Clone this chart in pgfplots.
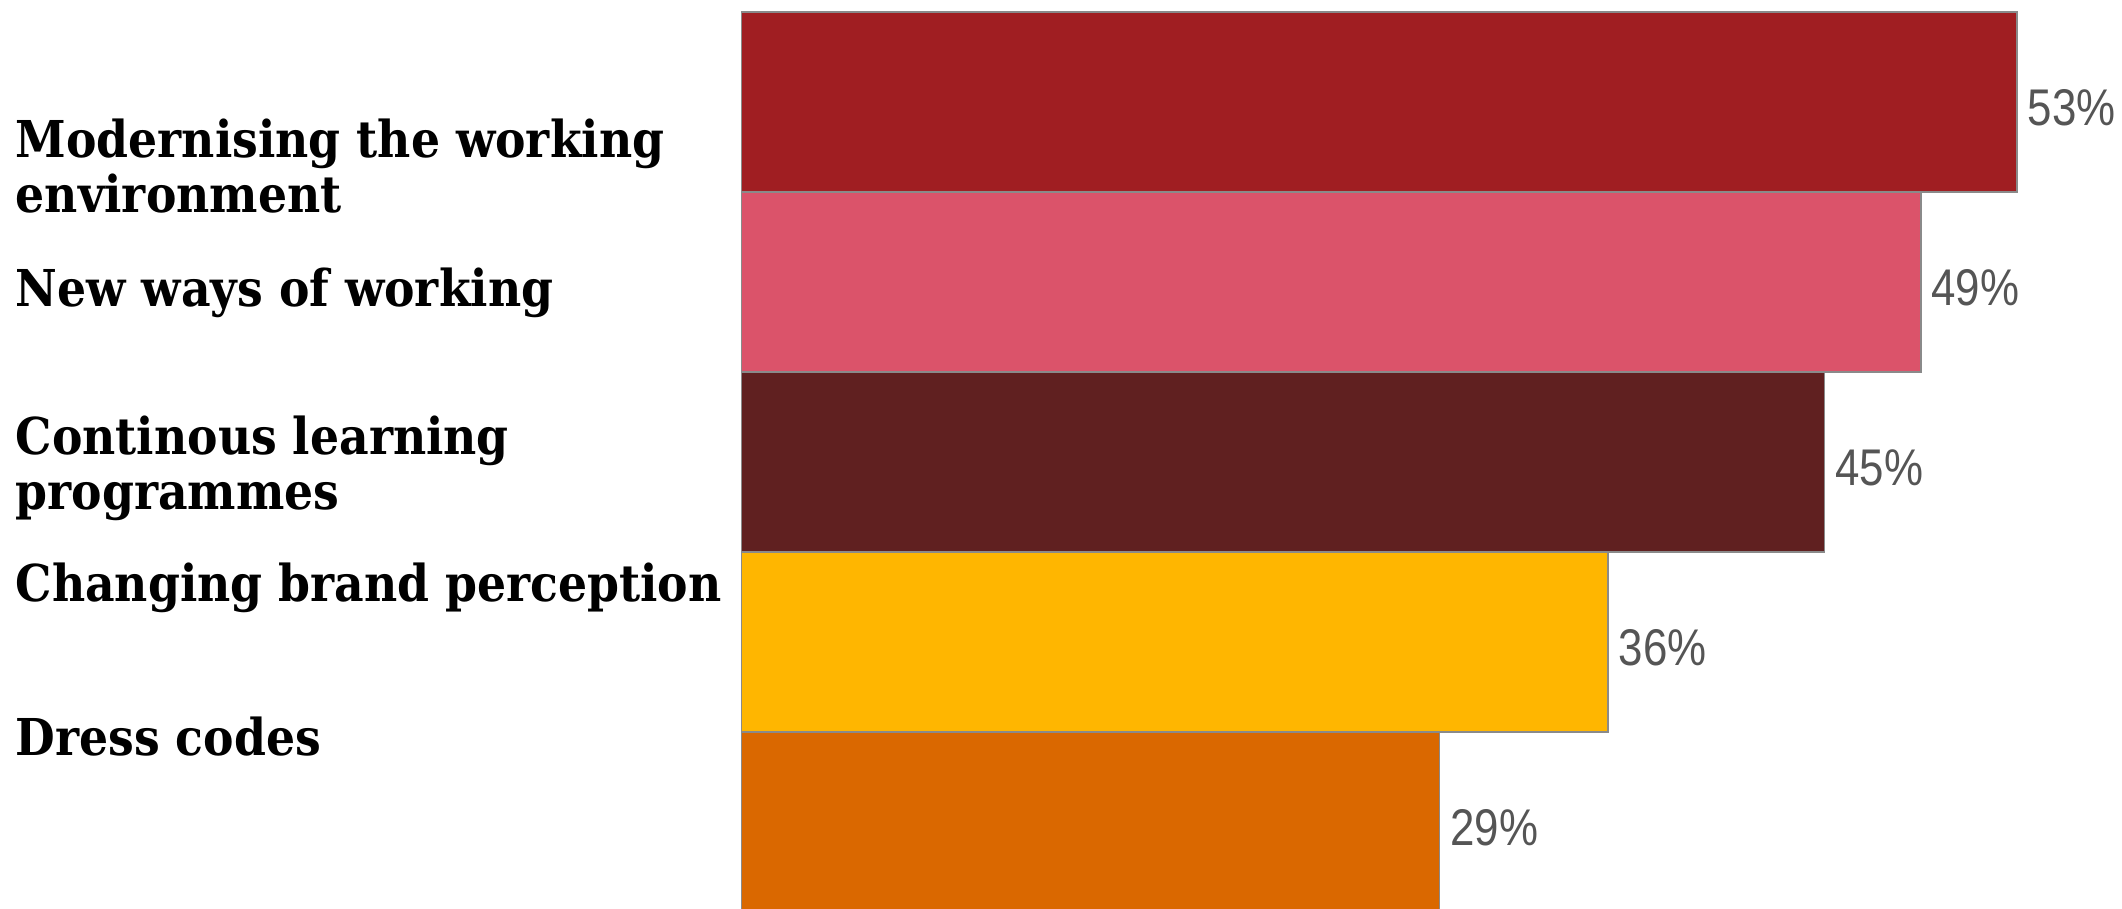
\documentclass[border=0pt]{standalone}
\usepackage{pgfplots}
\pgfplotsset{compat=1.18}
\usepackage{fontspec}
\usetikzlibrary{calc}
\newfontfamily\labfont[FakeStretch=0.9]{DejaVu Serif}
\newfontfamily\valfont[FakeStretch=0.85]{Liberation Sans}
\definecolor{c1}{HTML}{A01E22}
\definecolor{c2}{HTML}{DB536A}
\definecolor{c3}{HTML}{602020}
\definecolor{c4}{HTML}{FFB600}
\definecolor{c5}{HTML}{DA6800}
\definecolor{valgray}{HTML}{555555}
\definecolor{bordergray}{HTML}{8A8A8A}
\begin{document}
\begin{tikzpicture}
\begin{axis}[
 scale only axis, width=318.83pt, height=227.25pt,
 xmin=0, xmax=53, ymin=0.517, ymax=5.567,
 axis line style={draw=none}, xtick=\empty,
 ytick={1.473,2.300,2.967,3.941,4.645},
 yticklabels={Dress codes, Changing brand perception, {Continous learning\\programmes}, New ways of working, {Modernising the working\\environment}},
 major tick length=0pt,
 yticklabel style={anchor=west, align=left, inner sep=0pt, xshift=-181.7pt, font=\labfont\bfseries\fontsize{12.7}{13.75}\selectfont},
 xbar, bar width=1, bar shift=0pt,
 clip=false,
 nodes near coords={\pgfmathprintnumber{\pgfplotspointmeta}\%},
 nodes near coords style={anchor=base west, inner sep=0pt, xshift=2.5pt, yshift=-5.8pt, text=valgray, font=\valfont\fontsize{12.9}{14}\selectfont, /pgf/number format/assume math mode=true},
]
\addplot[fill=c5, draw=bordergray, line width=0.4pt] coordinates {(29,1)};
\addplot[fill=c4, draw=bordergray, line width=0.4pt] coordinates {(36,2)};
\addplot[fill=c3, draw=bordergray, line width=0.4pt] coordinates {(45,3)};
\addplot[fill=c2, draw=bordergray, line width=0.4pt] coordinates {(49,4)};
\addplot[fill=c1, draw=bordergray, line width=0.4pt] coordinates {(53,5)};
\end{axis}
\pgfresetboundingbox
\path[use as bounding box] ($(current axis.south west)+(-185.43pt,0)$) rectangle ($(current axis.north east)+(26.25pt,0)$);
\end{tikzpicture}
\end{document}
